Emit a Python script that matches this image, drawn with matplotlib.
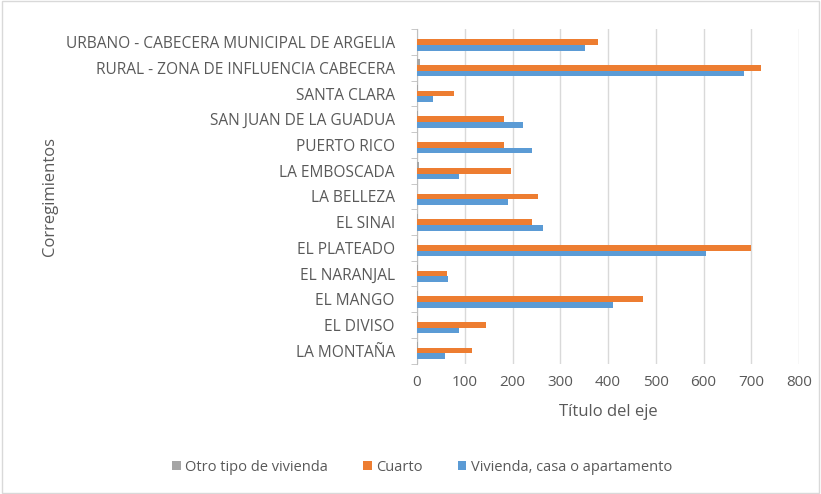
import matplotlib
matplotlib.use("Agg")
import matplotlib.pyplot as plt
import numpy as np

categories = ["URBANO - CABECERA MUNICIPAL DE ARGELIA",
              "RURAL - ZONA DE INFLUENCIA CABECERA",
              "SANTA CLARA", "SAN JUAN DE LA GUADUA", "PUERTO RICO",
              "LA EMBOSCADA", "LA BELLEZA", "EL SINAI", "EL PLATEADO",
              "EL NARANJAL", "EL MANGO", "EL DIVISO", "LA MONTAÑA"]
otro = [1, 6, 2, 2, 1, 5, 1, 2, 2, 2, 2, 2, 2]
cuarto = [379, 721, 77, 182, 182, 197, 254, 241, 699, 62, 473, 144, 116]
vivienda = [351, 684, 33, 222, 241, 88, 191, 263, 605, 65, 410, 88, 59]
xticks = [0, 100, 200, 300, 400, 500, 600, 700, 800]

plt.rcParams['font.family'] = ['Open Sans', 'DejaVu Sans']
txt = '#595959'

fig = plt.figure(figsize=(8.21, 4.94), dpi=100)
ax = fig.add_axes([417/821, 1-363.5/494, (799-417)/821, (363.5-29.3)/494])

n = len(categories)
y = np.arange(n)[::-1].astype(float)
h = 0.22
ax.barh(y + h, otro, height=h, color='#A5A5A5', label='Otro tipo de vivienda', zorder=3)
ax.barh(y, cuarto, height=h, color='#ED7D31', label='Cuarto', zorder=3)
ax.barh(y - h, vivienda, height=h, color='#5B9BD5', label='Vivienda, casa o apartamento', zorder=3)

ax.set_ylim(-0.5, n - 0.5)
ax.set_xlim(0, 800)
ax.set_xticks(xticks)
ax.set_xticklabels([str(t) for t in xticks])
ax.set_yticks(y)
ax.set_yticklabels(categories)
ax.tick_params(axis='y', length=0, labelsize=11.2, labelcolor=txt, pad=16)
ax.tick_params(axis='x', length=0, labelsize=11, labelcolor=txt, pad=8)
ax.set_yticks(np.arange(-0.5, n, 1.0), minor=True)
ax.tick_params(axis='y', which='minor', length=4, color='#BFBFBF')
ax.grid(axis='x', color='#D9D9D9', linewidth=1, zorder=0)
for s in ['top', 'right', 'bottom']:
    ax.spines[s].set_visible(False)
ax.spines['left'].set_color('#BFBFBF')

ax.set_xlabel('Título del eje', fontsize=12, color=txt, labelpad=10)
fig.text(50/821, 1-196/494, 'Corregimientos', rotation=90, fontsize=12, color=txt,
         ha='center', va='center')

leg = fig.legend(loc='center', bbox_to_anchor=(422/821, 1-467/494), ncol=3, frameon=False,
                 fontsize=10.5, handlelength=0.6, handleheight=0.6, columnspacing=2.4,
                 handletextpad=0.3, labelcolor=txt)

fig.patches.append(plt.Rectangle((0.002, 0.002), 0.996, 0.996, transform=fig.transFigure,
                                 fill=False, edgecolor='#D9D9D9', linewidth=1))
fig.savefig('out.png', dpi=100)
